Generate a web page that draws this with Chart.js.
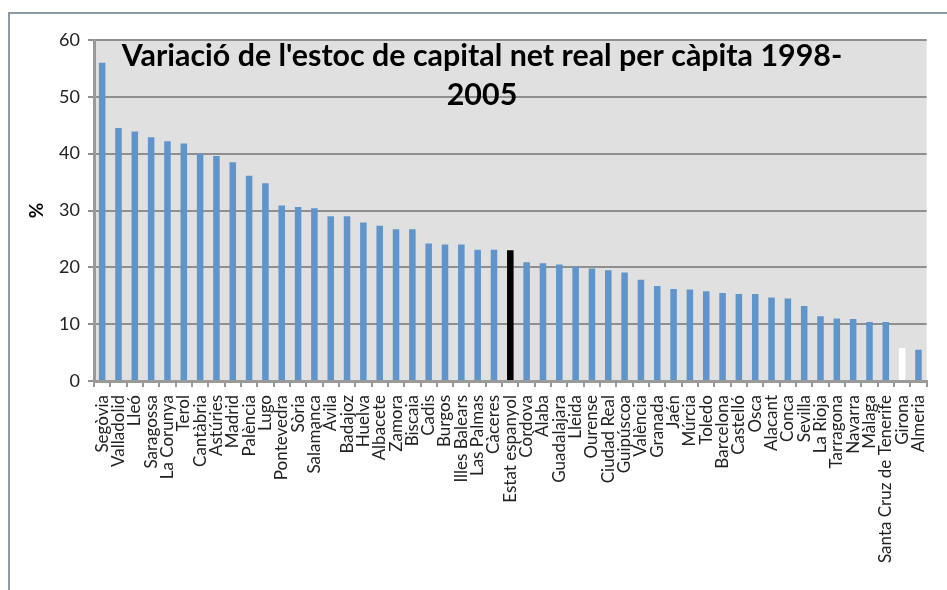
<!DOCTYPE html>
<html>
<head>
<meta charset="utf-8">
<script src="https://cdn.jsdelivr.net/npm/chart.js@4"></script>
<style>
	body { margin: 0; background: #fff; }
</style>
</head>
<body>
<canvas id="chart" width="947" height="590"></canvas>
<script>
// Data

const provinces = [
	"Segòvia", "Valladolid", "Lleó", "Saragossa", "La Corunya", "Terol",
	"Cantàbria", "Astúries", "Madrid", "Palència", "Lugo", "Pontevedra",
	"Sòria", "Salamanca", "Àvila", "Badajoz", "Huelva", "Albacete", "Zamora",
	"Biscaia", "Cadis", "Burgos", "Illes Balears", "Las Palmas", "Càceres",
	"Estat espanyol", "Còrdova", "Àlaba", "Guadalajara", "Lleida", "Ourense",
	"Ciudad Real", "Guipúscoa", "València", "Granada", "Jaén", "Múrcia",
	"Toledo", "Barcelona", "Castelló", "Osca", "Alacant", "Conca", "Sevilla",
	"La Rioja", "Tarragona", "Navarra", "Màlaga", "Santa Cruz de Tenerife",
	"Girona", "Almeria",
];
const growth = [
	56.0, 44.5, 43.9, 42.9, 42.2, 41.8,
	40.0, 39.6, 38.5, 36.1, 34.8, 30.9,
	30.6, 30.4, 29.0, 29.0, 27.9, 27.3, 26.7,
	26.7, 24.2, 24.0, 24.0, 23.1, 23.1,
	23.0, 20.9, 20.7, 20.5, 20.1, 19.8,
	19.5, 19.1, 17.8, 16.7, 16.2, 16.1,
	15.8, 15.5, 15.3, 15.3, 14.7, 14.5, 13.2,
	11.4, 11.0, 10.9, 10.4, 10.4,
	5.8, 5.5,
];
const yTicks = [0, 10, 20, 30, 40, 50, 60];
const titleLines = ["Variació de l'estoc de capital net real per càpita 1998-", "2005"];
const yTitle = "%";
const nationalLabel = "Estat espanyol";
const blankLabel = "Girona";

const barColors = provinces.map((p) => {
	if (p === nationalLabel) return "#000000";
	if (p === blankLabel) return "#ffffff";
	return "#5f95cb";
});

// gray plot area + outer frame
const backdrop = {
	id: "backdrop",
	beforeDraw(chart) {
		const { ctx, chartArea } = chart;
		ctx.save();
		ctx.strokeStyle = "#8d9aa2";
		ctx.lineWidth = 2;
		ctx.beginPath();
		ctx.moveTo(9, 600);
		ctx.lineTo(9, 13);
		ctx.lineTo(947, 13);
		ctx.stroke();
		ctx.fillStyle = "#e0e0e0";
		ctx.fillRect(chartArea.left, chartArea.top, chartArea.right - chartArea.left, chartArea.bottom - chartArea.top);
		ctx.restore();
	},
};

// title sits inside the plot area, like the spreadsheet original
const insideTitle = {
	id: "insideTitle",
	afterDraw(chart) {
		const { ctx } = chart;
		ctx.save();
		ctx.font = "bold 26px Lato";
		const w = ctx.measureText(titleLines[0]).width;
		const size = Math.round(26 * 721 / w * 10) / 10;
		ctx.font = `bold ${size}px Lato`;
		ctx.fillStyle = "#000";
		ctx.textAlign = "center";
		ctx.textBaseline = "middle";
		ctx.fillText(titleLines[0], 482, 56);
		ctx.fillText(titleLines[1], 482, 95);
		ctx.restore();
	},
};

new Chart(document.getElementById("chart"), {
	type: "bar",
	data: {
		labels: provinces,
		datasets: [
			{
				data: growth,
				backgroundColor: barColors,
				borderWidth: 0,
				categoryPercentage: 1,
				barPercentage: 0.4,
			},
		],
	},
	options: {
		responsive: false,
		animation: false,
		layout: { padding: { left: 0, top: 40, right: 14, bottom: 0 } },
		plugins: {
			legend: { display: false },
			tooltip: { enabled: false },
		},
		scales: {
			x: {
				grid: { drawOnChartArea: false, drawTicks: true, tickLength: 6, color: "#9a9a9a", lineWidth: 2 },
				border: { color: "#9a9a9a", width: 3 },
				ticks: {
					autoSkip: false,
					maxRotation: 90,
					minRotation: 90,
					padding: 8,
					color: "#222",
					font: { family: "Lato", size: 17 },
				},
				afterFit: (scale) => { scale.height = 209; },
			},
			y: {
				min: 0,
				max: 60,
				afterBuildTicks: (scale) => { scale.ticks = yTicks.map((v) => ({ value: v })); },
				grid: { color: "#8f8f8f", lineWidth: 2, tickLength: 6 },
				border: { color: "#9a9a9a", width: 3 },
				ticks: {
					padding: 8,
					color: "#222",
					font: { family: "Lato", size: 18 },
				},
				title: {
					display: true,
					text: yTitle,
					color: "#000",
					font: { family: "Lato", size: 19, weight: "bold" },
					padding: { top: 25, bottom: 0 },
				},
				afterFit: (scale) => { scale.width = 94; },
			},
		},
	},
	plugins: [backdrop, insideTitle],
});
</script>
</body>
</html>
